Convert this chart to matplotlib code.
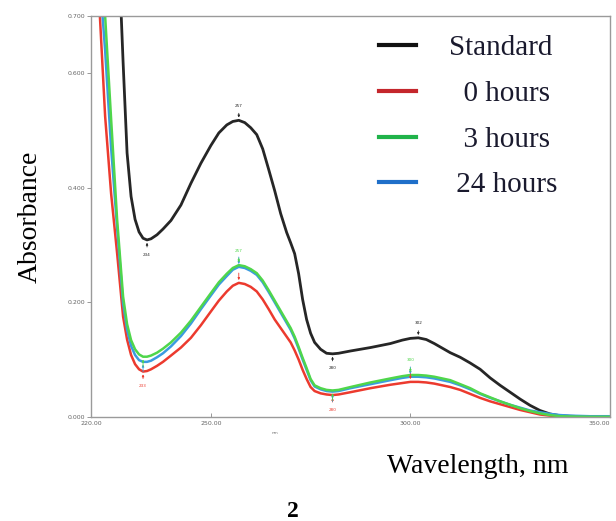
import numpy as np
import matplotlib
matplotlib.use("Agg")
import matplotlib.pyplot as plt

# wavelength grid (nm) shared by all spectra
wavelength = [222, 223.5, 225, 226.5, 228, 229, 230, 231, 232, 233,
              234, 235, 236.5, 238, 240, 242.5, 245, 247.5, 250, 252,
              254, 255.5, 257, 258.5, 260, 261.5, 263, 264.5, 266, 267.5,
              269, 270, 271, 272, 273, 274, 275, 276, 277.5, 279,
              280.5, 282, 285, 290, 295, 298, 300, 302, 304, 306,
              308, 310, 312.5, 315, 317.5, 320, 322.5, 325, 327.5, 330,
              332.5, 335, 337.5, 340, 345, 350]

abs_standard = [1.30, 1.15, 1.00, 0.88, 0.62, 0.461, 0.385, 0.345, 0.323, 0.312,
                0.309, 0.311, 0.318, 0.328, 0.343, 0.370, 0.408, 0.443, 0.474, 0.496,
                0.510, 0.516, 0.518, 0.514, 0.505, 0.493, 0.468, 0.432, 0.395, 0.355,
                0.322, 0.304, 0.285, 0.250, 0.205, 0.170, 0.146, 0.130, 0.118, 0.111,
                0.110, 0.111, 0.115, 0.121, 0.128, 0.134, 0.137, 0.138, 0.135, 0.128,
                0.120, 0.112, 0.104, 0.094, 0.083, 0.068, 0.055, 0.043, 0.031, 0.020,
                0.011, 0.005, 0.002, 0.001, 0.0, 0.0]

abs_0h = [0.725, 0.525, 0.39, 0.286, 0.175, 0.135, 0.108, 0.092, 0.083, 0.079,
          0.080, 0.083, 0.089, 0.096, 0.107, 0.121, 0.138, 0.160, 0.184, 0.203,
          0.219, 0.229, 0.234, 0.232, 0.227, 0.219, 0.205, 0.188, 0.170, 0.155,
          0.140, 0.130, 0.116, 0.100, 0.082, 0.066, 0.052, 0.045, 0.041, 0.039,
          0.038, 0.039, 0.043, 0.050, 0.056, 0.059, 0.061, 0.061, 0.060, 0.058,
          0.055, 0.052, 0.047, 0.040, 0.033, 0.027, 0.022, 0.017, 0.012, 0.008,
          0.004, 0.002, 0.001, 0.0, 0.0, 0.0]

abs_3h = [0.82, 0.70, 0.52, 0.345, 0.210, 0.162, 0.134, 0.118, 0.109, 0.105,
          0.105, 0.107, 0.112, 0.119, 0.130, 0.147, 0.168, 0.192, 0.216, 0.235,
          0.250, 0.260, 0.265, 0.263, 0.258, 0.251, 0.238, 0.221, 0.203, 0.185,
          0.167, 0.155, 0.140, 0.122, 0.103, 0.085, 0.066, 0.055, 0.050, 0.047,
          0.046, 0.047, 0.052, 0.060, 0.067, 0.071, 0.073, 0.073, 0.072, 0.070,
          0.067, 0.064, 0.057, 0.050, 0.041, 0.034, 0.027, 0.021, 0.015, 0.010,
          0.006, 0.003, 0.001, 0.0005, 0.0, 0.0]

abs_24h = [0.78, 0.64, 0.47, 0.33, 0.198, 0.152, 0.124, 0.108, 0.099, 0.096,
           0.096, 0.098, 0.104, 0.111, 0.123, 0.141, 0.163, 0.188, 0.212, 0.231,
           0.246, 0.257, 0.262, 0.260, 0.255, 0.248, 0.235, 0.218, 0.200, 0.182,
           0.164, 0.152, 0.137, 0.119, 0.100, 0.082, 0.064, 0.053, 0.048, 0.045,
           0.044, 0.045, 0.050, 0.057, 0.064, 0.068, 0.070, 0.070, 0.069, 0.067,
           0.064, 0.061, 0.055, 0.048, 0.040, 0.033, 0.027, 0.021, 0.016, 0.011,
           0.008, 0.005, 0.003, 0.002, 0.001, 0.001]

labels = ["Standard", "0 hours", "3 hours", "24 hours"]
x_ticks = [220, 250, 300, 350]
y_ticks = [0.0, 0.2, 0.4, 0.6, 0.7]

serif = "Liberation Serif"

fig = plt.figure(figsize=(6.16, 5.21), dpi=100)
ax = fig.add_axes([0.148, 0.2, 0.842, 0.769])

wl = np.array(wavelength)
# (values, colour, line width, label, which extrema get a caption)
series = [
    (abs_standard, "#262626", 2.0, labels[0], ("min", "max")),
    (abs_0h, "#ec3a2e", 1.8, labels[1], ("min",)),
    (abs_24h, "#3b9be0", 1.8, labels[3], ()),
    (abs_3h, "#4fd64b", 1.8, labels[2], ("max",)),
]
for vals, col, lw, lab, captioned in series:
    y = np.array(vals)
    ax.plot(wl, y, color=col, lw=lw, label=lab, solid_joinstyle="round")
    # small peak / valley arrows like the instrument printout
    for lo, hi, kind in [(228, 240, "min"), (250, 265, "max"),
                         (275, 285, "min"), (295, 310, "max")]:
        m = (wl >= lo) & (wl <= hi)
        idx = np.where(m)[0]
        i = idx[np.argmin(y[m])] if kind == "min" else idx[np.argmax(y[m])]
        dy = -0.022 if kind == "min" else 0.022
        txt = f"{wl[i]:.0f}" if kind in captioned else ""
        ax.annotate(txt, xy=(wl[i], y[i]), xytext=(wl[i], y[i] + dy),
                    ha="center", va="top" if kind == "min" else "bottom",
                    fontsize=3, color=col,
                    arrowprops=dict(arrowstyle="-|>", color=col, lw=0.6,
                                    mutation_scale=3))

ax.set_xlim(220, 350)
ax.set_ylim(0, 0.7)
ax.set_xticks(x_ticks)
ax.set_xticklabels([f"{v:.2f}" for v in x_ticks])
ax.get_xticklabels()[-1].set_ha("right")
ax.set_yticks(y_ticks)
ax.set_yticklabels([f"{v:.3f}" for v in y_ticks])
ax.tick_params(axis="both", labelsize=4.5, labelcolor="#666666", color="#888888",
               length=3, width=0.6)
ax.tick_params(axis="x", direction="in", pad=3)
ax.tick_params(axis="y", direction="out", pad=1)
for s in ax.spines.values():
    s.set_color("#9a9a9a")
    s.set_linewidth(1.0)

ax.text(0.355, -0.035, "nm", transform=ax.transAxes, fontsize=3,
        color="#777777", ha="center", va="top")

# legend: coloured handles, captions nudged to look centred
leg_cols = {"Standard": "#111111", "0 hours": "#c4262c",
            "3 hours": "#20b34a", "24 hours": "#1f6fc9"}
leg_pad = {"Standard": "", "0 hours": "  ", "3 hours": "  ", "24 hours": " "}
leg_lines = [plt.Line2D([], [], color=leg_cols[lab], lw=3) for lab in labels]
leg = ax.legend(leg_lines, [leg_pad[lab] + lab for lab in labels],
                loc="upper right", bbox_to_anchor=(0.898, 0.953),
                frameon=False, prop={"family": serif, "size": 21},
                borderaxespad=0, borderpad=0,
                handlelength=1.24, handletextpad=1.13, labelspacing=0.66)
for t in leg.get_texts():
    t.set_color("#1a1a2e")

ax.set_ylabel("Absorbance", family=serif, fontsize=20, labelpad=18)
fig.text(0.776, 0.104, "Wavelength, nm", family=serif, fontsize=20,
         ha="center", va="center")
fig.text(0.476, 0.019, "2", family=serif, fontsize=17, fontweight="bold",
         ha="center", va="center")

fig.savefig("out.png", dpi=100)
